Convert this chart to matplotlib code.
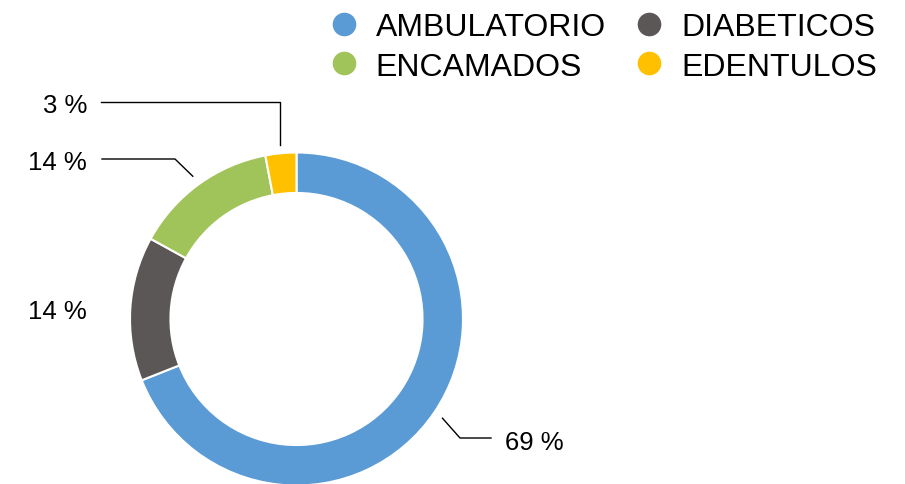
import numpy as np
import matplotlib.pyplot as plt
from matplotlib.lines import Line2D

# Data
categories = ['AMBULATORIO', 'DIABETICOS', 'ENCAMADOS', 'EDENTULOS']
values = [69, 14, 14, 3]
colors = ['#5B9BD5', '#5B5756', '#A1C45A', '#FFC000']

plt.rcParams['font.family'] = ['Liberation Sans', 'DejaVu Sans']

W, H = 905, 485
fig = plt.figure(figsize=(W / 100, H / 100), dpi=100)

# donut centre / radius in pixels
cx, cy, R = 296.5, 320, 166.5
ax = fig.add_axes([(cx - R) / W, (H - cy - R) / H, 2 * R / W, 2 * R / H])

wedges, _ = ax.pie(values, colors=colors, startangle=90, counterclock=False,
                   radius=1, wedgeprops=dict(width=0.243, edgecolor='white', linewidth=1.5))
ax.set_xlim(-1, 1)
ax.set_ylim(-1, 1)
ax.set_aspect('equal')
ax.axis('off')


def px(x, y):
    # pixel position -> pie data coords
    return (x - cx) / R, (cy - y) / R


def mid(w, r=1.06):
    a = np.deg2rad((w.theta1 + w.theta2) / 2)
    return r * np.cos(a), r * np.sin(a)


line_kw = dict(color='black', lw=1, clip_on=False)
txt_kw = dict(fontsize=18.5, color='black', va='center_baseline', clip_on=False)
labels = [f'{v} %' for v in values]

# AMBULATORIO
x0, y0 = mid(wedges[0])
x1, y1 = px(460, 439)
x2, _ = px(491, 439)
ax.plot([x0, x1, x2], [y0, y1, y1], **line_kw)
ax.text(px(505, 0)[0], y1 - 2 / R, labels[0], ha='left', **txt_kw)

# DIABETICOS (no leader)
_, yg = mid(wedges[1], 1.0)
ax.text(px(87, 0)[0], yg, labels[1], ha='right', **txt_kw)

# ENCAMADOS
x0, y0 = mid(wedges[2])
x1, y1 = px(175, 160)
x2, _ = px(102, 160)
ax.plot([x0, x1, x2], [y0, y1, y1], **line_kw)
ax.text(px(87, 0)[0], y1, labels[2], ha='right', **txt_kw)

# EDENTULOS
x0, y0 = mid(wedges[3], 1.05)
_, y1 = px(0, 103)
x2, _ = px(101, 103)
ax.plot([x0, x0, x2], [y0, y1, y1], **line_kw)
ax.text(px(87, 0)[0], y1, labels[3], ha='right', **txt_kw)

# legend fills column-wise, reorder so rows read like the original
order = [0, 2, 1, 3]
handles = [Line2D([], [], marker='o', ls='none', markersize=17, color=colors[i], markeredgewidth=0)
           for i in order]
fig.legend(handles, [categories[i] for i in order], loc='upper left',
           bbox_to_anchor=(331 / W, 1 - 13 / H),
           ncol=2, frameon=False, fontsize=23, handlelength=0.8, handletextpad=0.6,
           columnspacing=0.96, labelspacing=0.3, borderpad=0, borderaxespad=0)

fig.savefig('out.png', dpi=100)
